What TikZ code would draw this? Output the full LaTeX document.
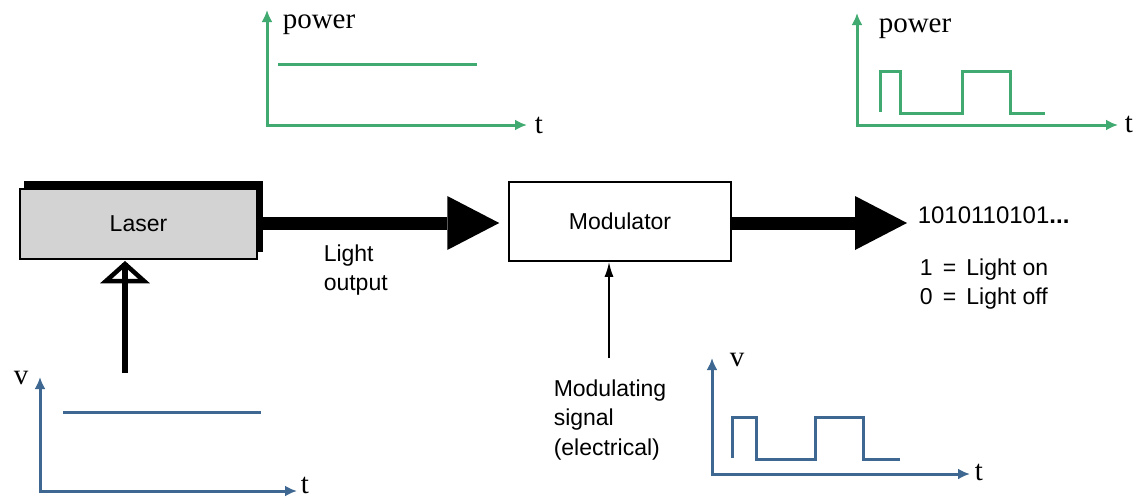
\documentclass[tikz,border=0pt]{standalone}
\usepackage{fontspec}
\setmainfont{Liberation Sans}
\newfontfamily\plotfont{Liberation Serif}
\usetikzlibrary{arrows.meta}
\definecolor{powgreen}{RGB}{64,170,112}
\definecolor{voltblue}{RGB}{62,104,145}
\definecolor{lasergray}{RGB}{211,211,211}

\begin{document}
\begin{tikzpicture}[x=1pt, y=-1pt, line width=1.5pt,
  lbl/.style={font=\fontsize{23}{29.5}\selectfont, inner sep=0pt},
  plbl/.style={font=\plotfont\fontsize{29}{32}\selectfont, inner sep=0pt},
  gaxis/.style={powgreen, line width=3pt, {Latex[length=12pt,width=11pt]}-{Latex[length=12pt,width=11pt]}},
  baxis/.style={voltblue, line width=3pt, {Latex[length=12pt,width=11pt]}-{Latex[length=12pt,width=11pt]}},
  gsig/.style={powgreen, line width=3pt},
  bsig/.style={voltblue, line width=3pt},
  beam/.style={line width=13pt, -{Triangle[length=52pt,width=54pt,line width=0pt]}}]
  \useasboundingbox (0,0) rectangle (1138,501);
  % laser and modulator
  \fill (24,181) rectangle (263,252);
  \node[lbl, draw, line width=2pt, fill=lasergray, minimum width=237pt, minimum height=70pt] (laser) at (138.5,224) {Laser};
  \node[lbl, draw, fill=white, minimum width=222pt, minimum height=79pt] (mod) at (620,221.5) {Modulator};
  \node[lbl, anchor=west, align=left] (light) at (323,270) {Light\\output};
  \node[lbl, anchor=west, font=\fontsize{24}{29.5}\selectfont] (bits) at (917,215) {1010110101\textbf{...}};
  \node[lbl, anchor=west, align=left] (legend) at (919,284) {1 \,=\, Light on\\0 \,=\, Light off};
  \node[lbl, anchor=west, align=left] (sig) at (553,420) {Modulating\\signal\\(electrical)};
  \draw[beam, shorten >=9pt] (laser.east |- 0,223) -- (mod.west |- 0,223);
  \draw[beam, shorten >=10pt] (mod.east |- 0,223) -- (bits.west |- 0,223);
  \coordinate (sigtop) at (609,358);
  \draw[line width=2pt, -{Latex[length=15pt,width=9pt]}] (sigtop) -- (sigtop |- mod.south);
  \coordinate (vin) at (125,373);
  \draw[line width=6pt, shorten >=3pt] (vin) -- (vin |- laser.south);
  \draw[line width=4.5pt, line join=miter] (vin |- laser.south) ++(0,4) -- ++(-19,17) -- ++(38,0) -- cycle;
  % optical power, laser output
  \node[plbl, anchor=base west] (pow1) at (282,28) {power};
  \node[plbl] (t1) at (539,125) {t};
  \draw[gaxis] (267,10) |- (527,125);
  \draw[gsig] (278,64) -- (477,64);
  % optical power, modulator output
  \node[plbl, anchor=base west] (pow2) at (878,32) {power};
  \node[plbl] (t2) at (1129,124) {t};
  \draw[gaxis] (857,13) |- (1118,125);
  \draw[gsig] (880,112) |- (900,71) |- (962,113) |- (1010,71) |- (1045,113);
  % laser drive voltage
  \node[plbl] (v3) at (21,378) {v};
  \node[plbl] (t3) at (305,485) {t};
  \draw[baxis] (40,377) |- (297,491);
  \draw[bsig] (63,412) -- (261,412);
  % modulating voltage
  \node[plbl] (v4) at (737,360) {v};
  \node[plbl] (t4) at (979,472) {t};
  \draw[baxis] (712,358) |- (970,474);
  \draw[bsig] (732,458) |- (756,417) |- (815,459) |- (863,417) |- (900,459);
\end{tikzpicture}
\end{document}
